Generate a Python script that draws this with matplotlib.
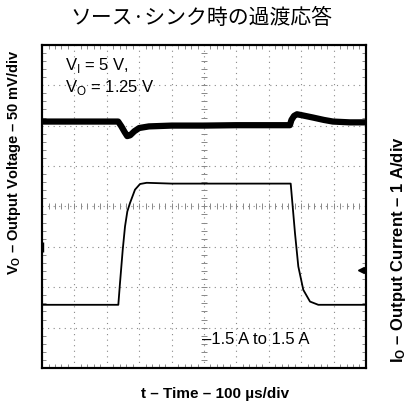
import numpy as np
import matplotlib.pyplot as plt

plt.rcParams['font.family'] = ['Liberation Sans', 'DejaVu Sans']
plt.rcParams['mathtext.fontset'] = 'custom'
plt.rcParams['mathtext.rm'] = 'Liberation Sans'
plt.rcParams['mathtext.bf'] = 'Liberation Sans:bold'

# time in microseconds (100 us/div)
t_v = [0, 120, 235, 245, 255, 263, 272, 285, 300, 330, 400, 500, 600, 700, 765, 770, 778, 787, 800, 836, 870, 898, 950, 1000]
# output voltage deviation from 1.25 V, mV (50 mV/div)
v_mv = [0, 0, 0, -6, -13, -18, -17, -12, -8, -6, -5, -5, -4.5, -4.5, -4.5, 2, 7, 9, 8, 5, 2, 0, -1, -1]

t_i = [0, 100, 235.5, 240.7, 249.1, 256.2, 263.3, 271.6, 287.0, 302.5, 323.1, 400, 600, 767.6, 773.8, 780.9, 791.1, 806.5, 827.2, 852.8, 900, 1000]
# output current, A (1 A/div)
i_a = [-1.5, -1.5, -1.5, -0.96, -0.14, 0.44, 0.81, 1.02, 1.35, 1.49, 1.52, 1.5, 1.5, 1.5, 0.93, 0.27, -0.55, -1.13, -1.42, -1.5, -1.5, -1.5]

V_CENTER = -105.0   # mV at screen centre
I_CENTER = 0.936    # A at screen centre

fig = plt.figure(figsize=(4.08, 4.05), dpi=100)
ax = fig.add_axes([0.103, 0.0914, 0.794, 0.798])
ax2 = ax.twinx()

ax.set_xlim(0, 1000)
ax.set_ylim(V_CENTER - 200, V_CENTER + 200)
ax2.set_ylim(I_CENTER - 4, I_CENTER + 4)

ax.set_xticks(np.arange(0, 1001, 100))
ax.set_yticks(V_CENTER + np.arange(-200, 201, 50))
ax.set_xticks(np.arange(0, 1001, 20), minor=True)
ax.set_yticks(V_CENTER + np.arange(-200, 201, 10), minor=True)
ax.tick_params(which='major', length=0, labelbottom=False, labelleft=False)
ax.tick_params(which='minor', direction='in', length=3, width=0.6, color='#777777',
               top=True, bottom=True, left=True, right=True)
ax2.set_yticks([])
ax.grid(which='major', linestyle=(0, (1, 4)), color='#888888', linewidth=0.8)

# centre graticule ticks
ax.plot(np.arange(0, 1001, 20), np.full(51, V_CENTER), linestyle='none', marker='|',
        markersize=5, color='#888888', markeredgewidth=0.7)
ax.plot(np.full(41, 500), V_CENTER + np.arange(-200, 201, 10), linestyle='none', marker='_',
        markersize=5, color='#888888', markeredgewidth=0.7)

for sp in list(ax.spines.values()) + list(ax2.spines.values()):
    sp.set_linewidth(1.5)

ax.plot(t_v, v_mv, color='black', linewidth=4.5, solid_joinstyle='round')
ax2.plot(t_i, i_a, color='black', linewidth=1.3)

# channel markers
ax.plot([0.004], [0.375], transform=ax.transAxes, marker='|', markersize=7, color='black', clip_on=False)
ax.plot([0.985], [0.303], transform=ax.transAxes, marker='<', markersize=4, color='black', clip_on=False)

ax.text(0.071, 0.935, r'V$_\mathrm{I}$ = 5 V,', transform=ax.transAxes, fontsize=12, va='center')
ax.text(0.071, 0.868, r'V$_\mathrm{O}$ = 1.25 V', transform=ax.transAxes, fontsize=12, va='center')
ax.text(0.494, 0.087, '\u20131.5 A to 1.5 A', transform=ax.transAxes, fontsize=12, va='center')

fig.text(0.495, 0.955, 'ソース·シンク時の過渡応答', fontsize=15, ha='center', va='center',
         family=['Noto Sans CJK JP', 'DejaVu Sans'])
fig.text(0.034, 0.6, r'$\mathbf{V_O}$' + ' \u2013 Output Voltage \u2013 50 mV/div',
         rotation=90, fontsize=10.5, fontweight='bold', ha='center', va='center')
fig.text(0.976, 0.383, r'$\mathbf{I_O}$' + ' \u2013 Output Current \u2013 1 A/div',
         rotation=90, fontsize=12, fontweight='bold', ha='center', va='center')
fig.text(0.527, 0.027, 't \u2013 Time \u2013 100 \u00b5s/div', fontsize=11, fontweight='bold',
         ha='center', va='center')

fig.savefig('out.png', dpi=100)
